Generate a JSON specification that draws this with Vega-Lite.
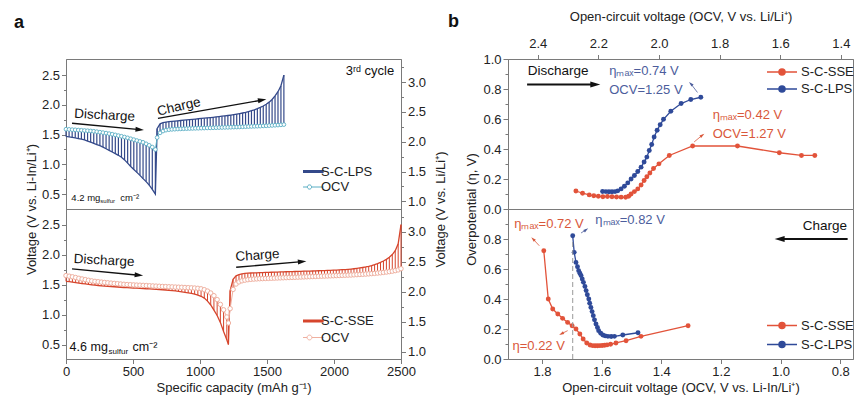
{
"$schema": "https://vega.github.io/schema/vega-lite/v6.json",
"padding": {"left": 13, "top": 10, "right": 0, "bottom": 0},
"background": "white",
"config": {
 "font": "Liberation Sans",
 "view": {"stroke": "#7a7a7a", "strokeWidth": 1},
 "axis": {"domainColor": "#7a7a7a", "tickColor": "#7a7a7a", "labelFontSize": 13, "titleFontSize": 13, "labelColor": "#222222", "titleColor": "#222222", "titleFontWeight": "normal", "grid": false, "labelFont": "Liberation Sans", "titleFont": "Liberation Sans", "labelOverlap": false, "labelFlush": false},
 "legend": {"labelFontSize": 13, "labelColor": "#222222", "labelFont": "Liberation Sans"},
 "text": {"font": "Liberation Sans"}
},
"datasets": {
 "gA": [
{"c":0,"o":1.59,"l":1.47},{"c":23,"o":1.587,"l":1.462},{"c":46,"o":1.583,"l":1.453},{"c":69,"o":1.58,"l":1.445},{"c":92,"o":1.576,"l":1.434},{"c":115,"o":1.573,"l":1.424},{"c":138,"o":1.569,"l":1.41},{"c":161,"o":1.565,"l":1.392},{"c":184,"o":1.561,"l":1.372},{"c":207,"o":1.556,"l":1.352},{"c":230,"o":1.549,"l":1.333},{"c":253,"o":1.541,"l":1.315},{"c":276,"o":1.533,"l":1.29},{"c":299,"o":1.525,"l":1.262},{"c":322,"o":1.516,"l":1.235},{"c":345,"o":1.506,"l":1.208},{"c":368,"o":1.495,"l":1.18},{"c":391,"o":1.483,"l":1.152},{"c":414,"o":1.472,"l":1.12},{"c":437,"o":1.459,"l":1.075},{"c":460,"o":1.445,"l":1.02},{"c":483,"o":1.43,"l":0.965},{"c":506,"o":1.415,"l":0.915},{"c":529,"o":1.4,"l":0.865},{"c":552,"o":1.385,"l":0.815},{"c":575,"o":1.37,"l":0.76},{"c":598,"o":1.345,"l":0.71},{"c":621,"o":1.32,"l":0.65},{"c":644,"o":1.29,"l":0.58},{"c":667,"o":1.25,"l":0.5},
{"c":680,"o":1.45,"l":1.6},{"c":702,"o":1.53,"l":1.68},{"c":724,"o":1.56,"l":1.7},{"c":746,"o":1.575,"l":1.71},{"c":768,"o":1.583,"l":1.717},{"c":790,"o":1.588,"l":1.722},{"c":812,"o":1.591,"l":1.727},{"c":834,"o":1.594,"l":1.732},{"c":856,"o":1.596,"l":1.737},{"c":878,"o":1.598,"l":1.742},{"c":900,"o":1.6,"l":1.747},{"c":922,"o":1.602,"l":1.751},{"c":944,"o":1.604,"l":1.756},{"c":966,"o":1.606,"l":1.761},{"c":988,"o":1.607,"l":1.766},{"c":1010,"o":1.609,"l":1.771},{"c":1032,"o":1.61,"l":1.776},{"c":1054,"o":1.612,"l":1.781},{"c":1076,"o":1.613,"l":1.786},{"c":1098,"o":1.615,"l":1.791},{"c":1120,"o":1.616,"l":1.797},{"c":1142,"o":1.618,"l":1.803},{"c":1164,"o":1.619,"l":1.809},{"c":1186,"o":1.621,"l":1.815},{"c":1208,"o":1.622,"l":1.821},{"c":1230,"o":1.624,"l":1.828},{"c":1252,"o":1.626,"l":1.836},{"c":1274,"o":1.627,"l":1.844},{"c":1296,"o":1.629,"l":1.853},{"c":1318,"o":1.631,"l":1.863},{"c":1340,"o":1.633,"l":1.874},{"c":1362,"o":1.635,"l":1.887},{"c":1384,"o":1.637,"l":1.901},{"c":1406,"o":1.639,"l":1.917},{"c":1428,"o":1.641,"l":1.935},{"c":1450,"o":1.643,"l":1.956},{"c":1472,"o":1.646,"l":1.98},{"c":1494,"o":1.648,"l":2.01},{"c":1516,"o":1.651,"l":2.045},{"c":1538,"o":1.654,"l":2.09},{"c":1560,"o":1.657,"l":2.15},{"c":1582,"o":1.66,"l":2.22},{"c":1604,"o":1.664,"l":2.32},{"c":1626,"o":1.668,"l":2.5}
 ],
 "gB": [
{"c":0,"o":1.65,"l":1.555},{"c":24,"o":1.64,"l":1.548},{"c":48,"o":1.63,"l":1.541},{"c":72,"o":1.618,"l":1.533},{"c":96,"o":1.605,"l":1.525},{"c":120,"o":1.594,"l":1.518},{"c":144,"o":1.583,"l":1.511},{"c":168,"o":1.572,"l":1.503},{"c":192,"o":1.562,"l":1.496},{"c":216,"o":1.554,"l":1.49},{"c":240,"o":1.548,"l":1.485},{"c":264,"o":1.542,"l":1.48},{"c":288,"o":1.536,"l":1.476},{"c":312,"o":1.53,"l":1.472},{"c":336,"o":1.525,"l":1.468},{"c":360,"o":1.52,"l":1.464},{"c":384,"o":1.515,"l":1.46},{"c":408,"o":1.51,"l":1.456},{"c":432,"o":1.505,"l":1.452},{"c":456,"o":1.501,"l":1.448},{"c":480,"o":1.498,"l":1.445},{"c":504,"o":1.495,"l":1.442},{"c":528,"o":1.492,"l":1.44},{"c":552,"o":1.49,"l":1.437},{"c":576,"o":1.487,"l":1.434},{"c":600,"o":1.484,"l":1.431},{"c":624,"o":1.481,"l":1.428},{"c":648,"o":1.478,"l":1.425},{"c":672,"o":1.475,"l":1.422},{"c":696,"o":1.472,"l":1.418},{"c":720,"o":1.469,"l":1.414},{"c":744,"o":1.467,"l":1.41},{"c":768,"o":1.464,"l":1.405},{"c":792,"o":1.462,"l":1.4},{"c":816,"o":1.459,"l":1.394},{"c":840,"o":1.457,"l":1.388},{"c":864,"o":1.455,"l":1.38},{"c":888,"o":1.452,"l":1.372},{"c":912,"o":1.449,"l":1.362},{"c":936,"o":1.446,"l":1.352},{"c":960,"o":1.443,"l":1.34},{"c":984,"o":1.438,"l":1.325},{"c":1008,"o":1.43,"l":1.305},{"c":1032,"o":1.415,"l":1.275},{"c":1056,"o":1.392,"l":1.225},{"c":1080,"o":1.36,"l":1.16},{"c":1104,"o":1.315,"l":1.075},{"c":1128,"o":1.25,"l":0.985},{"c":1152,"o":1.17,"l":0.87},{"c":1176,"o":1.08,"l":0.72},{"c":1200,"o":0.96,"l":0.58},{"c":1212,"o":0.86,"l":0.5},
{"c":1225,"o":1.1,"l":1.4},{"c":1247,"o":1.42,"l":1.59},{"c":1269,"o":1.51,"l":1.645},{"c":1291,"o":1.545,"l":1.667},{"c":1313,"o":1.563,"l":1.679},{"c":1335,"o":1.574,"l":1.686},{"c":1357,"o":1.582,"l":1.69},{"c":1379,"o":1.588,"l":1.693},{"c":1401,"o":1.592,"l":1.695},{"c":1423,"o":1.595,"l":1.697},{"c":1445,"o":1.598,"l":1.699},{"c":1467,"o":1.6,"l":1.701},{"c":1489,"o":1.602,"l":1.703},{"c":1511,"o":1.604,"l":1.705},{"c":1533,"o":1.606,"l":1.706},{"c":1555,"o":1.608,"l":1.708},{"c":1577,"o":1.61,"l":1.709},{"c":1599,"o":1.612,"l":1.711},{"c":1621,"o":1.614,"l":1.712},{"c":1643,"o":1.616,"l":1.714},{"c":1665,"o":1.618,"l":1.715},{"c":1687,"o":1.62,"l":1.717},{"c":1709,"o":1.622,"l":1.718},{"c":1731,"o":1.624,"l":1.72},{"c":1753,"o":1.626,"l":1.721},{"c":1775,"o":1.628,"l":1.723},{"c":1797,"o":1.63,"l":1.724},{"c":1819,"o":1.632,"l":1.726},{"c":1841,"o":1.634,"l":1.727},{"c":1863,"o":1.636,"l":1.729},{"c":1885,"o":1.638,"l":1.731},{"c":1907,"o":1.64,"l":1.732},{"c":1929,"o":1.642,"l":1.734},{"c":1951,"o":1.644,"l":1.736},{"c":1973,"o":1.646,"l":1.738},{"c":1995,"o":1.648,"l":1.74},{"c":2017,"o":1.65,"l":1.742},{"c":2039,"o":1.652,"l":1.745},{"c":2061,"o":1.654,"l":1.748},{"c":2083,"o":1.656,"l":1.751},{"c":2105,"o":1.658,"l":1.755},{"c":2127,"o":1.66,"l":1.759},{"c":2149,"o":1.663,"l":1.764},{"c":2171,"o":1.666,"l":1.77},{"c":2193,"o":1.669,"l":1.777},{"c":2215,"o":1.672,"l":1.785},{"c":2237,"o":1.675,"l":1.794},{"c":2259,"o":1.679,"l":1.805},{"c":2281,"o":1.683,"l":1.818},{"c":2303,"o":1.687,"l":1.833},{"c":2325,"o":1.692,"l":1.85},{"c":2347,"o":1.697,"l":1.87},{"c":2369,"o":1.703,"l":1.893},{"c":2391,"o":1.709,"l":1.92},{"c":2413,"o":1.716,"l":1.955},{"c":2435,"o":1.724,"l":2.0},{"c":2457,"o":1.733,"l":2.065},{"c":2479,"o":1.745,"l":2.18},{"c":2500,"o":1.765,"l":2.5}
 ],
 "bD": [
{"s":"S-C-SSE","x":2.274,"e":0.12},{"s":"S-C-SSE","x":2.252,"e":0.105},{"s":"S-C-SSE","x":2.23,"e":0.094},{"s":"S-C-SSE","x":2.215,"e":0.088},{"s":"S-C-SSE","x":2.2,"e":0.085},{"s":"S-C-SSE","x":2.185,"e":0.082},{"s":"S-C-SSE","x":2.17,"e":0.083},{"s":"S-C-SSE","x":2.155,"e":0.082},{"s":"S-C-SSE","x":2.14,"e":0.08},{"s":"S-C-SSE","x":2.125,"e":0.079},{"s":"S-C-SSE","x":2.11,"e":0.078},{"s":"S-C-SSE","x":2.1,"e":0.085},{"s":"S-C-SSE","x":2.092,"e":0.1},{"s":"S-C-SSE","x":2.081,"e":0.116},{"s":"S-C-SSE","x":2.07,"e":0.134},{"s":"S-C-SSE","x":2.059,"e":0.16},{"s":"S-C-SSE","x":2.049,"e":0.19},{"s":"S-C-SSE","x":2.04,"e":0.215},{"s":"S-C-SSE","x":2.03,"e":0.24},{"s":"S-C-SSE","x":2.018,"e":0.27},{"s":"S-C-SSE","x":2.0,"e":0.301},{"s":"S-C-SSE","x":1.966,"e":0.357},{"s":"S-C-SSE","x":1.889,"e":0.42},{"s":"S-C-SSE","x":1.741,"e":0.42},{"s":"S-C-SSE","x":1.603,"e":0.375},{"s":"S-C-SSE","x":1.53,"e":0.357},{"s":"S-C-SSE","x":1.486,"e":0.357},
{"s":"S-C-LPS","x":2.186,"e":0.117},{"s":"S-C-LPS","x":2.175,"e":0.116},{"s":"S-C-LPS","x":2.165,"e":0.115},{"s":"S-C-LPS","x":2.155,"e":0.115},{"s":"S-C-LPS","x":2.145,"e":0.116},{"s":"S-C-LPS","x":2.136,"e":0.121},{"s":"S-C-LPS","x":2.125,"e":0.134},{"s":"S-C-LPS","x":2.114,"e":0.152},{"s":"S-C-LPS","x":2.103,"e":0.174},{"s":"S-C-LPS","x":2.092,"e":0.2},{"s":"S-C-LPS","x":2.081,"e":0.223},{"s":"S-C-LPS","x":2.07,"e":0.25},{"s":"S-C-LPS","x":2.059,"e":0.279},{"s":"S-C-LPS","x":2.049,"e":0.313},{"s":"S-C-LPS","x":2.04,"e":0.346},{"s":"S-C-LPS","x":2.032,"e":0.39},{"s":"S-C-LPS","x":2.024,"e":0.43},{"s":"S-C-LPS","x":2.016,"e":0.48},{"s":"S-C-LPS","x":2.006,"e":0.525},{"s":"S-C-LPS","x":1.996,"e":0.562},{"s":"S-C-LPS","x":1.985,"e":0.598},{"s":"S-C-LPS","x":1.961,"e":0.652},{"s":"S-C-LPS","x":1.927,"e":0.703},{"s":"S-C-LPS","x":1.895,"e":0.73},{"s":"S-C-LPS","x":1.862,"e":0.745}
 ],
 "bC": [
{"s":"S-C-SSE","x":1.794,"e":0.722},{"s":"S-C-SSE","x":1.779,"e":0.4},{"s":"S-C-SSE","x":1.764,"e":0.333},{"s":"S-C-SSE","x":1.747,"e":0.3},{"s":"S-C-SSE","x":1.731,"e":0.271},{"s":"S-C-SSE","x":1.714,"e":0.244},{"s":"S-C-SSE","x":1.699,"e":0.222},{"s":"S-C-SSE","x":1.686,"e":0.2},{"s":"S-C-SSE","x":1.673,"e":0.167},{"s":"S-C-SSE","x":1.662,"e":0.133},{"s":"S-C-SSE","x":1.65,"e":0.107},{"s":"S-C-SSE","x":1.639,"e":0.093},{"s":"S-C-SSE","x":1.63,"e":0.089},{"s":"S-C-SSE","x":1.622,"e":0.088},{"s":"S-C-SSE","x":1.614,"e":0.088},{"s":"S-C-SSE","x":1.606,"e":0.089},{"s":"S-C-SSE","x":1.598,"e":0.09},{"s":"S-C-SSE","x":1.59,"e":0.092},{"s":"S-C-SSE","x":1.582,"e":0.094},{"s":"S-C-SSE","x":1.57,"e":0.098},{"s":"S-C-SSE","x":1.552,"e":0.107},{"s":"S-C-SSE","x":1.518,"e":0.122},{"s":"S-C-SSE","x":1.468,"e":0.151},{"s":"S-C-SSE","x":1.31,"e":0.222},
{"s":"S-C-LPS","x":1.697,"e":0.822},{"s":"S-C-LPS","x":1.692,"e":0.711},{"s":"S-C-LPS","x":1.686,"e":0.644},{"s":"S-C-LPS","x":1.681,"e":0.615},{"s":"S-C-LPS","x":1.677,"e":0.589},{"s":"S-C-LPS","x":1.673,"e":0.572},{"s":"S-C-LPS","x":1.669,"e":0.556},{"s":"S-C-LPS","x":1.665,"e":0.533},{"s":"S-C-LPS","x":1.661,"e":0.511},{"s":"S-C-LPS","x":1.656,"e":0.484},{"s":"S-C-LPS","x":1.652,"e":0.456},{"s":"S-C-LPS","x":1.648,"e":0.428},{"s":"S-C-LPS","x":1.643,"e":0.4},{"s":"S-C-LPS","x":1.64,"e":0.372},{"s":"S-C-LPS","x":1.636,"e":0.344},{"s":"S-C-LPS","x":1.632,"e":0.316},{"s":"S-C-LPS","x":1.628,"e":0.289},{"s":"S-C-LPS","x":1.624,"e":0.261},{"s":"S-C-LPS","x":1.619,"e":0.233},{"s":"S-C-LPS","x":1.614,"e":0.21},{"s":"S-C-LPS","x":1.61,"e":0.189},{"s":"S-C-LPS","x":1.603,"e":0.172},{"s":"S-C-LPS","x":1.596,"e":0.16},{"s":"S-C-LPS","x":1.588,"e":0.154},{"s":"S-C-LPS","x":1.579,"e":0.151},{"s":"S-C-LPS","x":1.568,"e":0.15},{"s":"S-C-LPS","x":1.557,"e":0.151},{"s":"S-C-LPS","x":1.529,"e":0.16},{"s":"S-C-LPS","x":1.478,"e":0.175}
 ]
},
"resolve": {"scale": {"color": "independent", "fill": "independent", "stroke": "independent", "shape": "independent"}, "legend": {"color": "independent"}},
"concat": [
 {
  "width": 335, "height": 150,
  "resolve": {"scale": {"y": "independent"}},
  "layer": [
   {"layer": [
    {"data": {"name": "gA"}, "mark": {"type": "rule", "color": "#34498a", "strokeWidth": 1.2},
     "encoding": {
      "x": {"field": "c", "type": "quantitative", "scale": {"domain": [0, 2500], "nice": false, "zero": false}, "axis": null},
      "y": {"field": "o", "type": "quantitative", "scale": {"domain": [0.25, 2.77], "nice": false, "zero": false}, "axis": null},
      "y2": {"field": "l"}}},
    {"data": {"name": "gA"}, "mark": {"type": "line", "strokeWidth": 1.3},
     "encoding": {
      "x": {"field": "c", "type": "quantitative", "axis": null},
      "y": {"field": "l", "type": "quantitative", "axis": null},
      "color": {"datum": "S-C-LPS", "scale": {"domain": ["S-C-LPS", "OCV"], "range": ["#34498a", "#5aaec4"]},
       "legend": {"orient": "none", "legendX": 237, "legendY": 105, "title": null, "symbolType": "stroke", "symbolSize": 800, "clipHeight": 15, "rowPadding": 0.5, "labelOffset": 5,
        "encode": {"symbols": {"update": {
         "shape": {"signal": "datum.value === 'OCV' ? 'M-1,0H-0.15M0.15,0H1M-0.15,0A0.15,0.15,0,1,1,0.15,0A0.15,0.15,0,1,1,-0.15,0' : 'stroke'"},
         "stroke": {"signal": "datum.value === 'OCV' ? '#5aaec4' : '#34498a'"},
         "fill": {"signal": "datum.value === 'OCV' ? 'white' : 'transparent'"},
         "strokeWidth": {"signal": "datum.value === 'OCV' ? 1 : 2.8"}}}}}}}},
    {"data": {"name": "gA"}, "mark": {"type": "line", "strokeWidth": 1},
     "encoding": {
      "x": {"field": "c", "type": "quantitative", "axis": null},
      "y": {"field": "o", "type": "quantitative", "axis": null},
      "color": {"datum": "OCV"}}},
    {"data": {"name": "gA"}, "mark": {"type": "point", "shape": "circle", "size": 14, "filled": true, "fill": "white", "stroke": "#5aaec4", "strokeWidth": 0.9, "opacity": 1},
     "encoding": {
      "x": {"field": "c", "type": "quantitative", "axis": null},
      "y": {"field": "o", "type": "quantitative", "axis": null}}},
    {"data": {"values": [{"c": 0, "o": 2.77, "t": "a"}]}, "mark": {"type": "text", "align": "left", "baseline": "alphabetic", "fontSize": 18, "fontWeight": "bold", "dx": -52, "dy": -31, "color": "#111111"},
     "encoding": {"x": {"field": "c", "type": "quantitative", "axis": null}, "y": {"field": "o", "type": "quantitative", "axis": null}, "text": {"field": "t"}}},
    {"data": {"values": [{"c": 2449, "o": 2.5, "t": "3ʳᵈ cycle"}]}, "mark": {"type": "text", "align": "right", "baseline": "alphabetic", "fontSize": 13, "color": "#111111"},
     "encoding": {"x": {"field": "c", "type": "quantitative", "axis": null}, "y": {"field": "o", "type": "quantitative", "axis": null}, "text": {"field": "t"}}},
    {"data": {"values": [{"c": 286, "o": 1.755, "t": "Discharge"}]}, "mark": {"type": "text", "align": "center", "baseline": "alphabetic", "fontSize": 13.5, "angle": 3, "color": "#111111"},
     "encoding": {"x": {"field": "c", "type": "quantitative", "axis": null}, "y": {"field": "o", "type": "quantitative", "axis": null}, "text": {"field": "t"}}},
    {"data": {"values": [{"c": 842, "o": 1.967, "t": "Charge"}]}, "mark": {"type": "text", "align": "center", "baseline": "middle", "fontSize": 13.5, "angle": -13, "color": "#111111"},
     "encoding": {"x": {"field": "c", "type": "quantitative", "axis": null}, "y": {"field": "o", "type": "quantitative", "axis": null}, "text": {"field": "t"}}},
    {"data": {"values": [{"c": 40, "o": 0.39, "t": "4.2 mg"}]}, "mark": {"type": "text", "align": "left", "baseline": "alphabetic", "fontSize": 9.5, "color": "#111111"},
     "encoding": {"x": {"field": "c", "type": "quantitative", "axis": null}, "y": {"field": "o", "type": "quantitative", "axis": null}, "text": {"field": "t"}}},
    {"data": {"values": [{"c": 40, "o": 0.39, "t": "sulfur"}]}, "mark": {"type": "text", "align": "left", "baseline": "alphabetic", "fontSize": 6, "dx": 29, "dy": 2, "color": "#111111"},
     "encoding": {"x": {"field": "c", "type": "quantitative", "axis": null}, "y": {"field": "o", "type": "quantitative", "axis": null}, "text": {"field": "t"}}},
    {"data": {"values": [{"c": 40, "o": 0.39, "t": "cm⁻²"}]}, "mark": {"type": "text", "align": "left", "baseline": "alphabetic", "fontSize": 9.5, "dx": 49, "color": "#111111"},
     "encoding": {"x": {"field": "c", "type": "quantitative", "axis": null}, "y": {"field": "o", "type": "quantitative", "axis": null}, "text": {"field": "t"}}},
    {"data": {"values": [{"c": 45, "o": 1.69, "c2": 550, "o2": 1.583}, {"c": 686, "o": 1.772, "c2": 1464, "o2": 2.08}]}, "mark": {"type": "rule", "color": "#111111", "strokeWidth": 1.4},
     "encoding": {"x": {"field": "c", "type": "quantitative", "axis": null}, "y": {"field": "o", "type": "quantitative", "axis": null}, "x2": {"field": "c2"}, "y2": {"field": "o2"}}},
    {"data": {"values": [{"c": 550, "o": 1.583, "d": "d5"}, {"c": 1464, "o": 2.08, "d": "u10"}]}, "mark": {"type": "point", "filled": true, "color": "#111111", "size": 72, "opacity": 1},
     "encoding": {"x": {"field": "c", "type": "quantitative", "axis": null}, "y": {"field": "o", "type": "quantitative", "axis": null},
      "shape": {"field": "d", "type": "nominal", "legend": null, "scale": {"domain": ["r","l","d5","u10","u5","ul","ur","dl"], "range": ["M1,0L-1,-0.6L-1,0.6Z","M-1,0L1,-0.6L1,0.6Z","M1,0.09L-0.94,-0.69L-1.05,0.51Z","M0.98,-0.17L-1.09,-0.42L-0.88,0.76Z","M1,-0.09L-1.05,-0.51L-0.94,0.69Z","M-0.71,-0.71L0.28,1.13L1.13,0.28Z","M0.82,-0.57L-1.16,0.08L-0.48,1.07Z","M-0.89,0.45L1.16,0.08L0.62,-0.99Z"]}}}}
   ]},
   {"data": {"values": [{"c": 100, "r": 1}]}, "mark": {"type": "point", "opacity": 0},
    "encoding": {"x": {"field": "c", "type": "quantitative", "axis": null}, "y": {"field": "r", "type": "quantitative", "scale": {"domain": [0.25, 2.77], "nice": false, "zero": false},
     "axis": {"orient": "left", "values": [0.5, 0.75, 1, 1.25, 1.5, 1.75, 2, 2.25, 2.5], "format": ".1f", "labelOverlap": false,
      "labelExpr": "round(datum.value*4) % 2 === 1 ? '' : datum.label",
      "tickSize": {"condition": {"test": "round(datum.value*4) % 2 === 1", "value": 2.5}, "value": 4.5},
      "labelPadding": 2, "title": "Voltage (V vs. Li-In/Li⁺)", "titleY": 150, "titlePadding": 3}}}},
   {"data": {"values": [{"r": 2}]}, "mark": {"type": "point", "opacity": 0},
    "encoding": {"y": {"field": "r", "type": "quantitative", "scale": {"domain": [0.87, 3.39], "nice": false, "zero": false},
     "axis": {"orient": "right", "values": [1, 1.25, 1.5, 1.75, 2, 2.25, 2.5, 2.75, 3, 3.25], "format": ".1f", "labelOverlap": false,
      "labelExpr": "round(datum.value*4) % 2 === 1 ? '' : datum.label",
      "tickSize": {"condition": {"test": "round(datum.value*4) % 2 === 1", "value": 2.5}, "value": 4.5},
      "labelPadding": 2, "title": "Voltage (V vs. Li/Li⁺)", "titleY": 150, "titleAngle": 270, "titleBaseline": "top", "titlePadding": 9}}}}
  ]
 },
 {
  "width": 345, "height": 150,
  "resolve": {"scale": {"y": "independent"}},
  "layer": [
   {"layer": [
   {"data": {"name": "bD"}, "mark": {"type": "line", "strokeWidth": 1.3},
    "encoding": {
     "x": {"field": "x", "type": "quantitative", "scale": {"domain": [1.36, 2.498], "reverse": true, "nice": false, "zero": false},
      "axis": {"orient": "top", "values": [2.4, 2.3, 2.2, 2.1, 2.0, 1.9, 1.8, 1.7, 1.6, 1.5, 1.4], "format": ".1f", "labelOverlap": false,
       "labelExpr": "round(datum.value*10) % 2 === 1 ? '' : datum.label",
       "tickSize": {"condition": {"test": "round(datum.value*10) % 2 === 1", "value": 2.5}, "value": 4.5},
       "labelPadding": 4, "title": "Open-circuit voltage (OCV, V vs. Li/Li⁺)", "titlePadding": 14}},
     "y": {"field": "e", "type": "quantitative", "scale": {"domain": [0, 1], "nice": false, "zero": false}, "axis": null},
     "color": {"field": "s", "type": "nominal", "scale": {"domain": ["S-C-SSE", "S-C-LPS"], "range": ["#e2533a", "#2f4a99"]},
      "legend": {"orient": "none", "legendX": 258, "legendY": 5, "title": null, "symbolType": "M-1,0H1M-0.2,0A0.2,0.2,0,1,1,0.2,0A0.2,0.2,0,1,1,-0.2,0", "symbolSize": 900, "clipHeight": 16, "rowPadding": 1, "labelOffset": 3, "symbolStrokeWidth": 1.5,
       "encode": {"symbols": {"update": {
        "shape": {"value": "M-1,0H1M-0.2,0A0.2,0.2,0,1,1,0.2,0A0.2,0.2,0,1,1,-0.2,0"},
        "fill": {"signal": "datum.value === 'S-C-SSE' ? '#e2533a' : '#2f4a99'"},
        "stroke": {"signal": "datum.value === 'S-C-SSE' ? '#e2533a' : '#2f4a99'"},
        "opacity": {"value": 1}}}}}}}},
   {"data": {"name": "bD"}, "mark": {"type": "point", "filled": true, "size": 24, "opacity": 1},
    "encoding": {"x": {"field": "x", "type": "quantitative"}, "y": {"field": "e", "type": "quantitative", "axis": null}, "color": {"field": "s", "type": "nominal"}}},
   {"data": {"values": [{"x": 2.498, "e": 1.0, "t": "b"}]}, "mark": {"type": "text", "align": "left", "baseline": "alphabetic", "fontSize": 18, "fontWeight": "bold", "dx": -60, "dy": -32, "color": "#111111"},
    "encoding": {"x": {"field": "x", "type": "quantitative"}, "y": {"field": "e", "type": "quantitative", "axis": null}, "text": {"field": "t"}}},
   {"data": {"values": [{"x": 2.333, "e": 0.893, "t": "Discharge"}]}, "mark": {"type": "text", "align": "center", "baseline": "alphabetic", "fontSize": 13.5, "color": "#111111"},
    "encoding": {"x": {"field": "x", "type": "quantitative"}, "y": {"field": "e", "type": "quantitative", "axis": null}, "text": {"field": "t"}}},
   {"data": {"values": [{"x": 2.164, "e": 0.893, "t": "ηₘₐₓ=0.74 V"}, {"x": 2.164, "e": 0.766, "t": "OCV=1.25 V"}]}, "mark": {"type": "text", "align": "left", "baseline": "alphabetic", "fontSize": 13, "color": "#4c5d9c"},
    "encoding": {"x": {"field": "x", "type": "quantitative"}, "y": {"field": "e", "type": "quantitative", "axis": null}, "text": {"field": "t"}}},
   {"data": {"values": [{"x": 1.823, "e": 0.603, "t": "ηₘₐₓ=0.42 V"}, {"x": 1.823, "e": 0.473, "t": "OCV=1.27 V"}]}, "mark": {"type": "text", "align": "left", "baseline": "alphabetic", "fontSize": 13, "color": "#d9573a"},
    "encoding": {"x": {"field": "x", "type": "quantitative"}, "y": {"field": "e", "type": "quantitative", "axis": null}, "text": {"field": "t"}}},
   {"data": {"values": [{"x": 2.435, "e": 0.83, "x2": 2.212, "e2": 0.83}]}, "mark": {"type": "rule", "color": "#111111", "strokeWidth": 1.8},
    "encoding": {"x": {"field": "x", "type": "quantitative"}, "y": {"field": "e", "type": "quantitative", "axis": null}, "x2": {"field": "x2"}, "y2": {"field": "e2"}}},
   {"data": {"values": [{"x": 1.873, "e": 0.777, "x2": 1.895, "e2": 0.835, "g": "b"}, {"x": 1.884, "e": 0.447, "x2": 1.857, "e2": 0.492, "g": "r"}]}, "mark": {"type": "rule", "strokeWidth": 0.8},
    "encoding": {"x": {"field": "x", "type": "quantitative"}, "y": {"field": "e", "type": "quantitative", "axis": null}, "x2": {"field": "x2"}, "y2": {"field": "e2"},
     "stroke": {"field": "g", "type": "nominal", "legend": null, "scale": {"domain": ["k", "b", "r"], "range": ["#111111", "#4c5d9c", "#d9573a"]}}}},
   {"data": {"values": [{"x": 2.21, "e": 0.83, "d": "r", "g": "k", "big": 1}, {"x": 1.895, "e": 0.835, "d": "ul", "g": "b", "big": 0}, {"x": 1.857, "e": 0.492, "d": "ur", "g": "r", "big": 0}]},
    "transform": [{"filter": "datum.big === 1"}],
    "mark": {"type": "point", "filled": true, "size": 100, "opacity": 1},
    "encoding": {"x": {"field": "x", "type": "quantitative"}, "y": {"field": "e", "type": "quantitative", "axis": null},
     "fill": {"field": "g", "type": "nominal", "legend": null, "scale": {"domain": ["k", "b", "r"], "range": ["#111111", "#4c5d9c", "#d9573a"]}},
     "shape": {"field": "d", "type": "nominal", "legend": null, "scale": {"domain": ["r","l","d5","u10","u5","ul","ur","dl"], "range": ["M1,0L-1,-0.6L-1,0.6Z","M-1,0L1,-0.6L1,0.6Z","M1,0.09L-0.94,-0.69L-1.05,0.51Z","M0.98,-0.17L-1.09,-0.42L-0.88,0.76Z","M1,-0.09L-1.05,-0.51L-0.94,0.69Z","M-0.71,-0.71L0.28,1.13L1.13,0.28Z","M0.82,-0.57L-1.16,0.08L-0.48,1.07Z","M-0.89,0.45L1.16,0.08L0.62,-0.99Z"]}}}},
   {"data": {"values": [{"x": 2.21, "e": 0.83, "d": "r", "g": "k", "big": 1}, {"x": 1.895, "e": 0.835, "d": "ul", "g": "b", "big": 0}, {"x": 1.857, "e": 0.492, "d": "ur", "g": "r", "big": 0}]},
    "transform": [{"filter": "datum.big === 0"}],
    "mark": {"type": "point", "filled": true, "size": 25, "opacity": 1},
    "encoding": {"x": {"field": "x", "type": "quantitative"}, "y": {"field": "e", "type": "quantitative", "axis": null},
     "fill": {"field": "g", "type": "nominal", "legend": null},
     "shape": {"field": "d", "type": "nominal", "legend": null}}}
   ]},
   {"data": {"values": [{"x": 2.0, "r": 0.5}]}, "mark": {"type": "point", "opacity": 0},
    "encoding": {"x": {"field": "x", "type": "quantitative"}, "y": {"field": "r", "type": "quantitative", "scale": {"domain": [0, 1], "nice": false, "zero": false},
     "axis": {"orient": "left", "values": [0, 0.1, 0.2, 0.3, 0.4, 0.5, 0.6, 0.7, 0.8, 0.9, 1.0], "format": ".1f", "labelOverlap": false,
      "labelExpr": "round(datum.value*10) % 2 === 1 ? '' : datum.label",
      "tickSize": {"condition": {"test": "round(datum.value*10) % 2 === 1", "value": 3}, "value": 5},
      "labelPadding": 2, "title": "Overpotential (η, V)", "titleY": 150, "titlePadding": 4}}}}
  ]
 },
 {
  "width": 335, "height": 150,
  "resolve": {"scale": {"y": "independent"}},
  "layer": [
   {"layer": [
    {"data": {"name": "gB"}, "mark": {"type": "rule", "color": "#d6452c", "strokeWidth": 1},
     "encoding": {
      "x": {"field": "c", "type": "quantitative", "scale": {"domain": [0, 2500], "nice": false, "zero": false},
       "axis": {"orient": "bottom", "values": [0, 250, 500, 750, 1000, 1250, 1500, 1750, 2000, 2250, 2500], "format": "d", "labelOverlap": false,
        "labelExpr": "round(datum.value/250) % 2 === 1 ? '' : datum.label",
        "tickSize": {"condition": {"test": "round(datum.value/250) % 2 === 1", "value": 2.5}, "value": 4.5},
        "labelPadding": 2, "title": "Specific capacity (mAh g⁻¹)", "titlePadding": 3}},
      "y": {"field": "o", "type": "quantitative", "scale": {"domain": [0.26, 2.76], "nice": false, "zero": false}, "axis": null},
      "y2": {"field": "l"}}},
    {"data": {"name": "gB"}, "mark": {"type": "line", "strokeWidth": 1.3},
     "encoding": {
      "x": {"field": "c", "type": "quantitative"},
      "y": {"field": "l", "type": "quantitative", "axis": null},
      "color": {"datum": "S-C-SSE", "scale": {"domain": ["S-C-SSE", "OCV"], "range": ["#d6452c", "#efb0a0"]},
       "legend": {"orient": "none", "legendX": 237, "legendY": 104, "title": null, "symbolType": "stroke", "symbolSize": 800, "clipHeight": 16, "rowPadding": 0.5, "labelOffset": 5,
        "encode": {"symbols": {"update": {
         "shape": {"signal": "datum.value === 'OCV' ? 'M-1,0H-0.17M0.17,0H1M-0.17,0A0.17,0.17,0,1,1,0.17,0A0.17,0.17,0,1,1,-0.17,0' : 'stroke'"},
         "stroke": {"signal": "datum.value === 'OCV' ? '#efb0a0' : '#d6452c'"},
         "fill": {"signal": "datum.value === 'OCV' ? 'white' : 'transparent'"},
         "strokeWidth": {"signal": "datum.value === 'OCV' ? 1 : 2.8"}}}}}}}},
    {"data": {"name": "gB"}, "mark": {"type": "line", "strokeWidth": 1},
     "encoding": {
      "x": {"field": "c", "type": "quantitative"},
      "y": {"field": "o", "type": "quantitative", "axis": null},
      "color": {"datum": "OCV"}}},
    {"data": {"name": "gB"}, "mark": {"type": "point", "shape": "circle", "size": 20, "filled": true, "fill": "white", "stroke": "#efb0a0", "strokeWidth": 1, "opacity": 1},
     "encoding": {
      "x": {"field": "c", "type": "quantitative"},
      "y": {"field": "o", "type": "quantitative", "axis": null}}},
    {"data": {"values": [{"c": 282, "o": 1.833, "t": "Discharge"}]}, "mark": {"type": "text", "align": "center", "baseline": "alphabetic", "fontSize": 13.5, "angle": 3, "color": "#111111"},
     "encoding": {"x": {"field": "c", "type": "quantitative"}, "y": {"field": "o", "type": "quantitative", "axis": null}, "text": {"field": "t"}}},
    {"data": {"values": [{"c": 1431, "o": 1.917, "t": "Charge"}]}, "mark": {"type": "text", "align": "center", "baseline": "alphabetic", "fontSize": 13.5, "angle": -4, "color": "#111111"},
     "encoding": {"x": {"field": "c", "type": "quantitative"}, "y": {"field": "o", "type": "quantitative", "axis": null}, "text": {"field": "t"}}},
    {"data": {"values": [{"c": 27, "o": 0.388, "t": "4.6 mg"}]}, "mark": {"type": "text", "align": "left", "baseline": "alphabetic", "fontSize": 12.5, "color": "#111111"},
     "encoding": {"x": {"field": "c", "type": "quantitative"}, "y": {"field": "o", "type": "quantitative", "axis": null}, "text": {"field": "t"}}},
    {"data": {"values": [{"c": 27, "o": 0.388, "t": "sulfur"}]}, "mark": {"type": "text", "align": "left", "baseline": "alphabetic", "fontSize": 8, "dx": 39, "dy": 3, "color": "#111111"},
     "encoding": {"x": {"field": "c", "type": "quantitative"}, "y": {"field": "o", "type": "quantitative", "axis": null}, "text": {"field": "t"}}},
    {"data": {"values": [{"c": 27, "o": 0.388, "t": "cm⁻²"}]}, "mark": {"type": "text", "align": "left", "baseline": "alphabetic", "fontSize": 12.5, "dx": 63, "color": "#111111"},
     "encoding": {"x": {"field": "c", "type": "quantitative"}, "y": {"field": "o", "type": "quantitative", "axis": null}, "text": {"field": "t"}}},
    {"data": {"values": [{"c": 45, "o": 1.762, "c2": 544, "o2": 1.657}, {"c": 1270, "o": 1.788, "c2": 1762, "o2": 1.883}]}, "mark": {"type": "rule", "color": "#111111", "strokeWidth": 1.4},
     "encoding": {"x": {"field": "c", "type": "quantitative"}, "y": {"field": "o", "type": "quantitative", "axis": null}, "x2": {"field": "c2"}, "y2": {"field": "o2"}}},
    {"data": {"values": [{"c": 544, "o": 1.657, "d": "d5"}, {"c": 1762, "o": 1.883, "d": "u5"}]}, "mark": {"type": "point", "filled": true, "color": "#111111", "size": 72, "opacity": 1},
     "encoding": {"x": {"field": "c", "type": "quantitative"}, "y": {"field": "o", "type": "quantitative", "axis": null},
      "shape": {"field": "d", "type": "nominal", "legend": null, "scale": {"domain": ["r","l","d5","u10","u5","ul","ur","dl"], "range": ["M1,0L-1,-0.6L-1,0.6Z","M-1,0L1,-0.6L1,0.6Z","M1,0.09L-0.94,-0.69L-1.05,0.51Z","M0.98,-0.17L-1.09,-0.42L-0.88,0.76Z","M1,-0.09L-1.05,-0.51L-0.94,0.69Z","M-0.71,-0.71L0.28,1.13L1.13,0.28Z","M0.82,-0.57L-1.16,0.08L-0.48,1.07Z","M-0.89,0.45L1.16,0.08L0.62,-0.99Z"]}}}}
   ]},
   {"data": {"values": [{"c": 100, "r": 1}]}, "mark": {"type": "point", "opacity": 0},
    "encoding": {"x": {"field": "c", "type": "quantitative"}, "y": {"field": "r", "type": "quantitative", "scale": {"domain": [0.26, 2.76], "nice": false, "zero": false},
     "axis": {"orient": "left", "values": [0.5, 0.75, 1, 1.25, 1.5, 1.75, 2, 2.25, 2.5], "format": ".1f", "labelOverlap": false,
      "labelExpr": "round(datum.value*4) % 2 === 1 ? '' : datum.label",
      "tickSize": {"condition": {"test": "round(datum.value*4) % 2 === 1", "value": 2.5}, "value": 4.5},
      "labelPadding": 2, "title": null}}}},
   {"data": {"values": [{"r": 2}]}, "mark": {"type": "point", "opacity": 0},
    "encoding": {"y": {"field": "r", "type": "quantitative", "scale": {"domain": [0.88, 3.38], "nice": false, "zero": false},
     "axis": {"orient": "right", "values": [1, 1.25, 1.5, 1.75, 2, 2.25, 2.5, 2.75, 3, 3.25], "format": ".1f", "labelOverlap": false,
      "labelExpr": "round(datum.value*4) % 2 === 1 ? '' : datum.label",
      "tickSize": {"condition": {"test": "round(datum.value*4) % 2 === 1", "value": 2.5}, "value": 4.5},
      "labelPadding": 2, "title": null}}}}
  ]
 },
 {
  "width": 345, "height": 150,
  "resolve": {"scale": {"y": "independent"}},
  "layer": [
   {"layer": [
   {"data": {"name": "bC"}, "mark": {"type": "line", "strokeWidth": 1.3},
    "encoding": {
     "x": {"field": "x", "type": "quantitative", "scale": {"domain": [0.757, 1.914], "reverse": true, "nice": false, "zero": false},
      "axis": {"orient": "bottom", "values": [1.9, 1.8, 1.7, 1.6, 1.5, 1.4, 1.3, 1.2, 1.1, 1.0, 0.9, 0.8], "format": ".1f", "labelOverlap": false,
       "labelExpr": "round(datum.value*10) % 2 === 1 ? '' : datum.label",
       "tickSize": {"condition": {"test": "round(datum.value*10) % 2 === 1", "value": 2.5}, "value": 4.5},
       "labelPadding": 2, "title": "Open-circuit voltage (OCV, V vs. Li-In/Li⁺)", "titlePadding": 3}},
     "y": {"field": "e", "type": "quantitative", "scale": {"domain": [0, 1], "nice": false, "zero": false}, "axis": null},
     "color": {"field": "s", "type": "nominal", "scale": {"domain": ["S-C-SSE", "S-C-LPS"], "range": ["#e2533a", "#2f4a99"]},
      "legend": {"orient": "none", "legendX": 258, "legendY": 108, "title": null, "symbolType": "M-1,0H1M-0.2,0A0.2,0.2,0,1,1,0.2,0A0.2,0.2,0,1,1,-0.2,0", "symbolSize": 900, "clipHeight": 17, "rowPadding": 2, "labelOffset": 3, "symbolStrokeWidth": 1.5,
       "encode": {"symbols": {"update": {
        "shape": {"value": "M-1,0H1M-0.2,0A0.2,0.2,0,1,1,0.2,0A0.2,0.2,0,1,1,-0.2,0"},
        "fill": {"signal": "datum.value === 'S-C-SSE' ? '#e2533a' : '#2f4a99'"},
        "stroke": {"signal": "datum.value === 'S-C-SSE' ? '#e2533a' : '#2f4a99'"},
        "opacity": {"value": 1}}}}}}}},
   {"data": {"name": "bC"}, "mark": {"type": "point", "filled": true, "size": 24, "opacity": 1},
    "encoding": {"x": {"field": "x", "type": "quantitative"}, "y": {"field": "e", "type": "quantitative", "axis": null}, "color": {"field": "s", "type": "nominal"}}},
   {"data": {"values": [{"x": 1.697, "e": 0, "e2": 0.79}]}, "mark": {"type": "rule", "color": "#9a9a9a", "strokeDash": [5, 3], "strokeWidth": 1},
    "encoding": {"x": {"field": "x", "type": "quantitative"}, "y": {"field": "e", "type": "quantitative", "axis": null}, "y2": {"field": "e2"}}},
   {"data": {"values": [{"x": 0.851, "e": 0.862, "t": "Charge"}]}, "mark": {"type": "text", "align": "center", "baseline": "alphabetic", "fontSize": 13.5, "color": "#111111"},
    "encoding": {"x": {"field": "x", "type": "quantitative"}, "y": {"field": "e", "type": "quantitative", "axis": null}, "text": {"field": "t"}}},
   {"data": {"values": [{"x": 1.621, "e": 0.9, "t": "ηₘₐₓ=0.82 V"}]}, "mark": {"type": "text", "align": "left", "baseline": "alphabetic", "fontSize": 13, "color": "#4c5d9c"},
    "encoding": {"x": {"field": "x", "type": "quantitative"}, "y": {"field": "e", "type": "quantitative", "axis": null}, "text": {"field": "t"}}},
   {"data": {"values": [{"x": 1.893, "e": 0.871, "t": "ηₘₐₓ=0.72 V"}, {"x": 1.899, "e": 0.062, "t": "η=0.22 V"}]}, "mark": {"type": "text", "align": "left", "baseline": "alphabetic", "fontSize": 13, "color": "#d9573a"},
    "encoding": {"x": {"field": "x", "type": "quantitative"}, "y": {"field": "e", "type": "quantitative", "axis": null}, "text": {"field": "t"}}},
   {"data": {"values": [{"x": 0.775, "e": 0.8, "x2": 1.0, "e2": 0.8}]}, "mark": {"type": "rule", "color": "#111111", "strokeWidth": 1.8},
    "encoding": {"x": {"field": "x", "type": "quantitative"}, "y": {"field": "e", "type": "quantitative", "axis": null}, "x2": {"field": "x2"}, "y2": {"field": "e2"}}},
   {"data": {"values": [{"x": 1.809, "e": 0.755, "x2": 1.83, "e2": 0.8, "g": "r"}, {"x": 1.714, "e": 0.189, "x2": 1.735, "e2": 0.168, "g": "r"}, {"x": 1.669, "e": 0.84, "x2": 1.652, "e2": 0.862, "g": "b"}]}, "mark": {"type": "rule", "strokeWidth": 0.8},
    "encoding": {"x": {"field": "x", "type": "quantitative"}, "y": {"field": "e", "type": "quantitative", "axis": null}, "x2": {"field": "x2"}, "y2": {"field": "e2"},
     "stroke": {"field": "g", "type": "nominal", "legend": null, "scale": {"domain": ["k", "b", "r"], "range": ["#111111", "#4c5d9c", "#d9573a"]}}}},
   {"data": {"values": [{"x": 1.003, "e": 0.8, "d": "l", "g": "k", "big": 1}, {"x": 1.83, "e": 0.8, "d": "ul", "g": "r", "big": 0}, {"x": 1.735, "e": 0.168, "d": "dl", "g": "r", "big": 0}, {"x": 1.652, "e": 0.862, "d": "ur", "g": "b", "big": 0}]},
    "transform": [{"filter": "datum.big === 1"}],
    "mark": {"type": "point", "filled": true, "size": 100, "opacity": 1},
    "encoding": {"x": {"field": "x", "type": "quantitative"}, "y": {"field": "e", "type": "quantitative", "axis": null},
     "fill": {"field": "g", "type": "nominal", "legend": null, "scale": {"domain": ["k", "b", "r"], "range": ["#111111", "#4c5d9c", "#d9573a"]}},
     "shape": {"field": "d", "type": "nominal", "legend": null, "scale": {"domain": ["r","l","d5","u10","u5","ul","ur","dl"], "range": ["M1,0L-1,-0.6L-1,0.6Z","M-1,0L1,-0.6L1,0.6Z","M1,0.09L-0.94,-0.69L-1.05,0.51Z","M0.98,-0.17L-1.09,-0.42L-0.88,0.76Z","M1,-0.09L-1.05,-0.51L-0.94,0.69Z","M-0.71,-0.71L0.28,1.13L1.13,0.28Z","M0.82,-0.57L-1.16,0.08L-0.48,1.07Z","M-0.89,0.45L1.16,0.08L0.62,-0.99Z"]}}}},
   {"data": {"values": [{"x": 1.003, "e": 0.8, "d": "l", "g": "k", "big": 1}, {"x": 1.83, "e": 0.8, "d": "ul", "g": "r", "big": 0}, {"x": 1.735, "e": 0.168, "d": "dl", "g": "r", "big": 0}, {"x": 1.652, "e": 0.862, "d": "ur", "g": "b", "big": 0}]},
    "transform": [{"filter": "datum.big === 0"}],
    "mark": {"type": "point", "filled": true, "size": 25, "opacity": 1},
    "encoding": {"x": {"field": "x", "type": "quantitative"}, "y": {"field": "e", "type": "quantitative", "axis": null},
     "fill": {"field": "g", "type": "nominal", "legend": null},
     "shape": {"field": "d", "type": "nominal", "legend": null}}}
   ]},
   {"data": {"values": [{"x": 1.2, "r": 0.5}]}, "mark": {"type": "point", "opacity": 0},
    "encoding": {"x": {"field": "x", "type": "quantitative"}, "y": {"field": "r", "type": "quantitative", "scale": {"domain": [0, 1], "nice": false, "zero": false},
     "axis": {"orient": "left", "values": [0, 0.1, 0.2, 0.3, 0.4, 0.5, 0.6, 0.7, 0.8, 0.9], "format": ".1f", "labelOverlap": false,
      "labelExpr": "round(datum.value*10) % 2 === 1 ? '' : datum.label",
      "tickSize": {"condition": {"test": "round(datum.value*10) % 2 === 1", "value": 3}, "value": 5},
      "labelPadding": 2, "title": null}}}}
  ]
 }
],
"columns": 2,
"bounds": "flush",
"align": "each",
"spacing": {"row": 0, "column": 107}
}
